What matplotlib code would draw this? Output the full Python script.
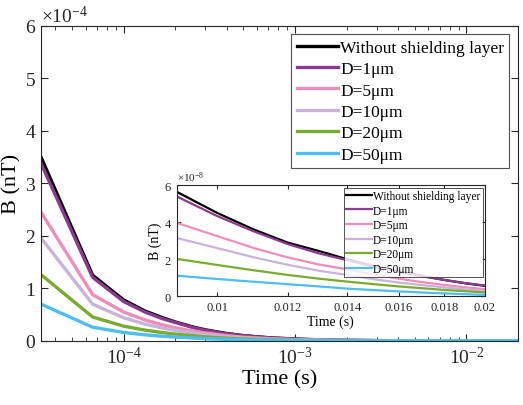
import numpy as np
import matplotlib
matplotlib.use("Agg")
import matplotlib.pyplot as plt
from matplotlib.ticker import ScalarFormatter, LogLocator, NullFormatter

plt.rcParams["font.family"] = ["Liberation Serif", "DejaVu Serif"]
plt.rcParams["mathtext.fontset"] = "custom"
plt.rcParams["mathtext.rm"] = "Liberation Serif"
plt.rcParams["xtick.direction"] = "in"
plt.rcParams["ytick.direction"] = "in"

labels = ["Without shielding layer", "D=1\u03bcm", "D=5\u03bcm",
          "D=10\u03bcm", "D=20\u03bcm", "D=50\u03bcm"]
colors = ["#000000", "#8B3A8F", "#F08CB8", "#C8B4D8", "#77AC30", "#4DBEEE"]

# main panel: time (s) and B in units of 1e-4 nT
t_main = [3.3e-5, 6.6e-5, 1.0e-4, 1.33e-4, 1.66e-4, 2.0e-4, 2.5e-4, 3.0e-4,
          4.0e-4, 5.0e-4, 7.0e-4, 1.0e-3, 1.5e-3, 2.0e-3, 3.0e-3, 5.0e-3,
          1.0e-2, 2.0e-2]
b_none = [3.50, 1.25, 0.78, 0.57, 0.45, 0.36, 0.27, 0.21, 0.14, 0.10, 0.060,
          0.034, 0.017, 0.010, 0.0045, 0.0016, 0.00045, 0.000056]
b_d1 = [3.38, 1.21, 0.75, 0.55, 0.43, 0.35, 0.26, 0.20, 0.135, 0.097, 0.058,
        0.033, 0.016, 0.0097, 0.0043, 0.0015, 0.00043, 0.000058]
b_d5 = [2.45, 0.88, 0.55, 0.40, 0.31, 0.25, 0.19, 0.15, 0.10, 0.070, 0.042,
        0.024, 0.012, 0.007, 0.0031, 0.0011, 0.00031, 0.000038]
b_d10 = [1.96, 0.70, 0.44, 0.32, 0.25, 0.20, 0.15, 0.12, 0.078, 0.056, 0.034,
         0.019, 0.0095, 0.0056, 0.0025, 0.0009, 0.00025, 0.000028]
b_d20 = [1.26, 0.455, 0.28, 0.205, 0.16, 0.13, 0.098, 0.076, 0.05, 0.036,
         0.022, 0.012, 0.006, 0.0036, 0.0016, 0.00058, 0.00016, 0.00002]
b_d50 = [0.70, 0.26, 0.16, 0.115, 0.09, 0.072, 0.054, 0.042, 0.028, 0.02,
         0.012, 0.0068, 0.0034, 0.002, 0.0009, 0.00032, 0.00009, 0.000007]

# inset: late-time zoom, B in units of 1e-8 nT
t_inset = [0.009, 0.010, 0.011, 0.012, 0.013, 0.014, 0.015, 0.016, 0.017,
           0.018, 0.019, 0.020]
i_none = [5.65, 4.50, 3.60, 2.90, 2.45, 2.00, 1.62, 1.35, 1.10, 0.88, 0.70, 0.56]
i_d1 = [5.40, 4.33, 3.50, 2.82, 2.32, 1.95, 1.60, 1.32, 1.08, 0.88, 0.71, 0.58]
i_d5 = [3.97, 3.25, 2.60, 2.10, 1.72, 1.45, 1.17, 0.95, 0.76, 0.61, 0.48, 0.38]
i_d10 = [3.15, 2.60, 2.10, 1.70, 1.38, 1.15, 0.92, 0.74, 0.60, 0.48, 0.37, 0.28]
i_d20 = [2.02, 1.69, 1.40, 1.15, 0.95, 0.79, 0.65, 0.53, 0.43, 0.34, 0.27, 0.20]
i_d50 = [1.11, 0.93, 0.78, 0.65, 0.53, 0.41, 0.33, 0.26, 0.20, 0.15, 0.11, 0.07]

main_series = [b_none, b_d1, b_d5, b_d10, b_d20, b_d50]
inset_series = [i_none, i_d1, i_d5, i_d10, i_d20, i_d50]


def style_box(ax, size):
    ax.tick_params(which="both", top=True, right=True, labelsize=size,
                   colors="#262626")
    for s in ax.spines.values():
        s.set_color("#262626")
        s.set_linewidth(0.8)


fig = plt.figure(figsize=(5.23, 4.06), dpi=100)

# ---- main axes ----
ax = fig.add_axes([0.0784, 0.158, 0.912, 0.776])
for ys, c, lab in zip(main_series, colors, labels):
    ax.plot(t_main, np.array(ys) * 1e-4, color=c, linewidth=2.4, label=lab)
ax.set_xscale("log")
ax.set_xlim(3.3e-5, 2.0e-2)
ax.set_ylim(0, 6e-4)
ax.set_yticks(np.arange(0, 7) * 1e-4)
fmt = ScalarFormatter(useMathText=True)
fmt.set_powerlimits((0, 0))
ax.yaxis.set_major_formatter(fmt)
ax.yaxis.get_offset_text().set_fontsize(14)
ax.xaxis.set_minor_locator(LogLocator(base=10, subs=np.arange(2, 10), numticks=20))
ax.xaxis.set_minor_formatter(NullFormatter())
style_box(ax, 14)
ax.tick_params(which="major", length=5)
ax.tick_params(which="minor", length=3)
ax.set_xlabel("Time (s)", fontsize=16, labelpad=2)
ax.set_ylabel("B (nT)", fontsize=16, labelpad=2)
leg = ax.legend(loc="upper right", fontsize=12.5, frameon=True, fancybox=False,
                edgecolor="#262626", handlelength=2.4, handletextpad=0.1,
                borderpad=0.3, labelspacing=0.3, borderaxespad=0.5)
leg.get_frame().set_linewidth(0.8)

# ---- inset axes ----
ax2 = fig.add_axes([0.338, 0.268, 0.589, 0.273])
for ys, c, lab in zip(inset_series, colors, labels):
    ax2.plot(t_inset, np.array(ys) * 1e-8, color=c, linewidth=1.6, label=lab)
ax2.set_xscale("log")
ax2.set_xlim(0.009, 0.02)
ax2.set_ylim(0, 6e-8)
ax2.set_xticks([0.010, 0.012, 0.014, 0.016, 0.018, 0.020])
ax2.set_xticklabels(["0.01", "0.012", "0.014", "0.016", "0.018", "0.02"])
ax2.xaxis.set_minor_formatter(NullFormatter())
ax2.set_yticks(np.array([0, 2, 4, 6]) * 1e-8)
fmt2 = ScalarFormatter(useMathText=True)
fmt2.set_powerlimits((0, 0))
ax2.yaxis.set_major_formatter(fmt2)
ax2.yaxis.get_offset_text().set_fontsize(8)
style_box(ax2, 9)
ax2.tick_params(which="major", length=3)
ax2.tick_params(which="minor", length=2)
ax2.set_xlabel("Time (s)", fontsize=10, labelpad=1)
ax2.set_ylabel("B (nT)", fontsize=10, labelpad=1)
leg2 = ax2.legend(loc="upper right", fontsize=8.3, frameon=True, fancybox=False,
                  edgecolor="#262626", handlelength=2.2, handletextpad=0.1,
                  borderpad=0.2, labelspacing=0.22, borderaxespad=0.2)
leg2.get_frame().set_linewidth(0.7)

fig.savefig("out.png", dpi=100)
